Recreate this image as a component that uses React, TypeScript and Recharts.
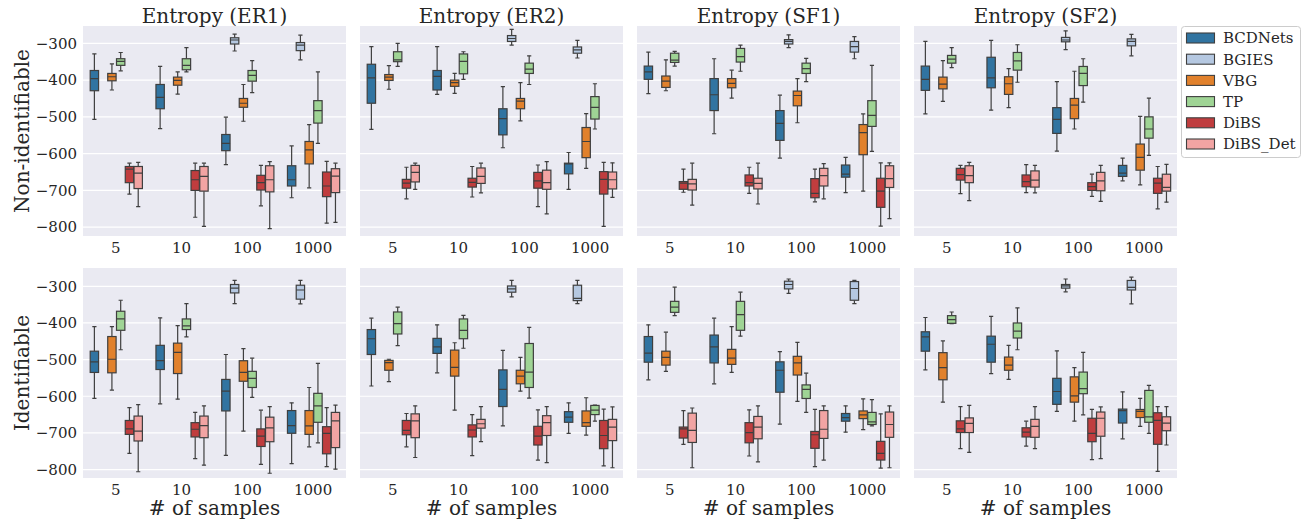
import React from 'react';
import { BarChart, Bar, XAxis, YAxis, CartesianGrid } from 'recharts';

const SAMPLES = ['5', '10', '100', '1000'];
const METHODS = ['BCDNets', 'BGIES', 'VBG', 'TP', 'DiBS', 'DiBS_Det'];
const COLORS = ['#3174a1', '#b5c8e1', '#e1812c', '#9fd495', '#c03d3e', '#f2a4a3'];
const Y_TICKS = [-800, -700, -600, -500, -400, -300];
const TITLES = ['Entropy (ER1)', 'Entropy (ER2)', 'Entropy (SF1)', 'Entropy (SF2)'];
const ROW_LABELS = ['Non-identifiable', 'Identifiable'];

// box = [low whisker, q1, median, q3, high whisker]; rows are 5, 10, 100, 1000 samples
type Box = number[] | null;

const NONID_ER1: Box[][] = [
  [[-507, -429, -396, -374, -329], null, [-427, -402, -391, -382, -356], [-375, -360, -349, -342, -325], [-710, -679, -642, -635, -626], [-744, -695, -653, -635, -624]],
  [[-532, -478, -447, -412, -363], null, [-438, -414, -401, -392, -378], [-378, -372, -360, -342, -312], [-773, -700, -671, -646, -626], [-798, -702, -662, -635, -626]],
  [[-630, -592, -572, -548, -501], [-321, -302, -291, -285, -275], [-512, -474, -463, -450, -412], [-434, -403, -387, -374, -347], [-742, -699, -679, -659, -632], [-804, -704, -671, -633, -622]],
  [[-720, -688, -671, -633, -579], [-345, -320, -305, -298, -278], [-693, -628, -590, -567, -521], [-572, -517, -483, -456, -378], [-789, -717, -688, -650, -621], [-787, -706, -661, -641, -626]],
];

const NONID_ER2: Box[][] = [
  [[-534, -463, -394, -357, -309], null, [-425, -401, -392, -385, -361], [-363, -350, -345, -323, -300], [-723, -694, -680, -670, -637], [-697, -677, -651, -632, -626]],
  [[-439, -427, -390, -374, -309], null, [-436, -417, -407, -400, -382], [-398, -383, -349, -329, -323], [-718, -691, -678, -667, -635], [-707, -681, -662, -639, -626]],
  [[-584, -549, -505, -478, -418], [-305, -295, -287, -279, -262], [-511, -478, -457, -450, -407], [-412, -382, -370, -354, -334], [-744, -694, -674, -651, -631], [-764, -697, -679, -645, -622]],
  [[-697, -655, -628, -626, -597], [-340, -327, -318, -310, -292], [-640, -611, -567, -529, -491], [-533, -506, -474, -445, -410], [-798, -710, -670, -649, -624], [-719, -696, -671, -650, -625]],
];

const NONID_SF1: Box[][] = [
  [[-437, -398, -378, -362, -324], null, [-429, -420, -403, -389, -345], [-362, -352, -346, -327, -322], [-705, -697, -680, -676, -642], [-740, -699, -682, -670, -626]],
  [[-546, -483, -440, -396, -342], null, [-449, -421, -409, -396, -373], [-376, -351, -336, -314, -305], [-708, -688, -679, -658, -637], [-737, -696, -681, -667, -626]],
  [[-612, -564, -518, -483, -441], [-312, -302, -295, -290, -277], [-516, -470, -442, -430, -396], [-404, -382, -369, -354, -341], [-731, -720, -708, -668, -642], [-723, -688, -660, -640, -627]],
  [[-706, -664, -656, -631, -610], [-342, -324, -309, -295, -282], [-702, -603, -543, -521, -492], [-594, -526, -496, -456, -360], [-797, -746, -702, -667, -625], [-777, -692, -668, -633, -625]],
];

const NONID_SF2: Box[][] = [
  [[-492, -428, -398, -362, -295], null, [-458, -424, -411, -392, -347], [-366, -354, -343, -333, -312], [-709, -672, -657, -640, -632], [-728, -679, -660, -633, -624]],
  [[-482, -421, -394, -338, -292], null, [-475, -439, -410, -391, -369], [-406, -373, -348, -325, -304], [-706, -690, -676, -658, -630], [-707, -691, -672, -647, -632]],
  [[-593, -545, -507, -475, -404], [-317, -296, -291, -284, -266], [-533, -505, -468, -450, -376], [-460, -415, -382, -363, -342], [-716, -700, -690, -679, -656], [-730, -701, -674, -651, -632]],
  [[-674, -662, -653, -632, -612], [-334, -307, -295, -288, -276], [-685, -645, -610, -574, -499], [-605, -558, -533, -500, -449], [-750, -708, -680, -667, -635], [-732, -702, -692, -656, -629]],
];

const ID_ER1: Box[][] = [
  [[-606, -535, -506, -477, -410], null, [-583, -536, -499, -437, -410], [-473, -420, -389, -368, -338], [-756, -704, -689, -666, -631], [-806, -722, -695, -654, -623]],
  [[-621, -527, -503, -461, -386], null, [-608, -538, -480, -455, -407], [-438, -418, -408, -389, -347], [-770, -711, -690, -672, -644], [-788, -713, -680, -654, -626]],
  [[-761, -640, -586, -554, -486], [-347, -318, -305, -295, -284], [-695, -559, -535, -503, -470], [-603, -576, -551, -532, -496], [-786, -737, -709, -689, -638], [-810, -724, -686, -657, -628]],
  [[-784, -701, -680, -639, -618], [-348, -335, -310, -297, -284], [-738, -704, -681, -639, -576], [-727, -671, -626, -592, -510], [-792, -757, -701, -683, -631], [-799, -740, -667, -644, -624]],
];

const ID_ER2: Box[][] = [
  [[-572, -486, -443, -418, -387], null, [-560, -529, -508, -502, -499], [-462, -430, -402, -370, -357], [-738, -705, -693, -666, -647], [-767, -713, -667, -648, -626]],
  [[-536, -483, -465, -442, -405], null, [-638, -545, -521, -474, -454], [-469, -443, -420, -389, -379], [-762, -711, -692, -678, -650], [-724, -687, -675, -663, -628]],
  [[-681, -628, -581, -528, -475], [-329, -316, -307, -299, -284], [-586, -566, -545, -529, -494], [-605, -576, -534, -456, -412], [-774, -733, -709, -682, -637], [-781, -707, -672, -653, -628]],
  [[-701, -671, -657, -642, -618], [-347, -339, -333, -297, -284], [-706, -682, -672, -640, -604], [-668, -650, -638, -625, -624], [-790, -743, -707, -666, -635], [-795, -721, -684, -663, -629]],
];

const ID_SF1: Box[][] = [
  [[-555, -507, -482, -437, -405], null, [-532, -515, -494, -477, -425], [-380, -371, -357, -341, -302], [-731, -714, -689, -684, -639], [-795, -726, -693, -646, -632]],
  [[-566, -509, -465, -433, -387], null, [-535, -513, -496, -472, -410], [-436, -420, -377, -341, -316], [-763, -727, -699, -672, -637], [-779, -716, -684, -655, -626]],
  [[-676, -589, -529, -506, -478], [-319, -307, -295, -286, -280], [-614, -542, -509, -491, -453], [-644, -606, -581, -569, -537], [-792, -742, -705, -696, -636], [-774, -715, -690, -639, -626]],
  [[-698, -668, -658, -647, -626], [-347, -338, -306, -287, -284], [-691, -661, -651, -640, -607], [-681, -677, -670, -644, -609], [-796, -774, -756, -723, -648], [-795, -712, -677, -643, -626]],
];

const ID_SF2: Box[][] = [
  [[-528, -477, -438, -424, -385], null, [-616, -555, -522, -481, -449], [-402, -401, -391, -380, -370], [-743, -699, -689, -667, -628], [-753, -699, -674, -659, -625]],
  [[-538, -507, -458, -436, -382], null, [-554, -529, -515, -493, -461], [-473, -441, -422, -400, -359], [-736, -711, -698, -686, -668], [-743, -712, -682, -663, -628]],
  [[-641, -622, -587, -551, -476], [-315, -305, -299, -295, -280], [-668, -616, -599, -547, -522], [-651, -593, -579, -534, -480], [-773, -724, -701, -660, -636], [-770, -709, -660, -643, -629]],
  [[-716, -673, -639, -635, -588], [-348, -310, -303, -284, -275], [-682, -658, -641, -636, -606], [-701, -671, -656, -584, -570], [-805, -731, -666, -645, -628], [-733, -694, -673, -656, -628]],
];

const PANELS = [
  [NONID_ER1, NONID_ER2, NONID_SF1, NONID_SF2],
  [ID_ER1, ID_ER2, ID_SF1, ID_SF2],
];

const FONT = "'DejaVu Serif', serif";
const TEXT = '#262626';
const LINE = '#3f3f3f';
const PLOT_LEFT = [83, 360, 637, 914];
const PLOT_W = 263;
const PLOT_TOP = [26, 268];
const PLOT_H = 210;
const Y_AXIS_W = 83;
const X_AXIS_H = 30;
const DOMAINS: [number, number][] = [[-824, -253], [-823, -250]];
const BAR = (PLOT_W / 4) * 0.8 / 6;

const fmt = (v: number) => (v < 0 ? '\u2212' + Math.abs(v) : String(v));

const BoxShape = (props: any) => {
  const { x, y, width, height, stats, color } = props;
  if (!stats || width == null) return <g />;
  const top = Math.min(y, y + height);
  const bottom = Math.max(y, y + height);
  const lo = stats[0];
  const hi = stats[4];
  const py = (v: number) => (hi === lo ? top : bottom - ((v - lo) / (hi - lo)) * (bottom - top));
  const cx = x + width / 2;
  const w = width - 0.4;
  const cap = w / 4;
  const q1 = py(stats[1]);
  const med = py(stats[2]);
  const q3 = py(stats[3]);
  return (
    <g>
      <line x1={cx} x2={cx} y1={top} y2={q3} stroke={LINE} strokeWidth={1.2} />
      <line x1={cx} x2={cx} y1={q1} y2={bottom} stroke={LINE} strokeWidth={1.2} />
      <line x1={cx - cap} x2={cx + cap} y1={top} y2={top} stroke={LINE} strokeWidth={1.2} />
      <line x1={cx - cap} x2={cx + cap} y1={bottom} y2={bottom} stroke={LINE} strokeWidth={1.2} />
      <rect x={cx - w / 2} y={q3} width={w} height={Math.max(q1 - q3, 0.5)} fill={color} stroke={LINE} strokeWidth={1.2} />
      <line x1={cx - w / 2} x2={cx + w / 2} y1={med} y2={med} stroke={LINE} strokeWidth={1.2} />
    </g>
  );
};

function Panel({ row, col }: { row: number; col: number }) {
  const boxes = PANELS[row][col];
  const data = SAMPLES.map((s, i) => {
    const d: Record<string, any> = { samples: s };
    METHODS.forEach((m, j) => {
      d[m] = boxes[i][j];
    });
    return d;
  });
  const first = col === 0;
  const tickStyle = { fontSize: 15, fill: TEXT, fontFamily: FONT };
  return (
    <div style={{ position: 'absolute', left: first ? 0 : PLOT_LEFT[col], top: PLOT_TOP[row] }}>
      <BarChart
        width={(first ? Y_AXIS_W : 0) + PLOT_W}
        height={PLOT_H + X_AXIS_H}
        data={data}
        margin={{ top: 0, right: 0, bottom: 0, left: 0 }}
        barGap={0}
      >
        <CartesianGrid vertical={false} horizontalValues={Y_TICKS} stroke="#ffffff" strokeWidth={1.2} fill="#eaeaf2" />
        <XAxis
          dataKey="samples"
          interval={0}
          tickLine={false}
          axisLine={false}
          tickSize={4}
          tickMargin={2}
          height={X_AXIS_H}
          tick={tickStyle}
        />
        <YAxis
          type="number"
          domain={DOMAINS[row]}
          allowDataOverflow
          ticks={Y_TICKS}
          interval={0}
          hide={!first}
          width={Y_AXIS_W}
          tickLine={false}
          axisLine={false}
          tickSize={4}
          tickMargin={2}
          tick={tickStyle}
          tickFormatter={fmt}
        />
        {METHODS.map((m, j) => (
          <Bar
            key={m}
            dataKey={(d: any) => (d[m] ? [d[m][0], d[m][4]] : null)}
            barSize={BAR}
            isAnimationActive={false}
            shape={(p: any) => <BoxShape {...p} stats={p.payload ? p.payload[m] : null} color={COLORS[j]} />}
          />
        ))}
      </BarChart>
    </div>
  );
}

export default function App() {
  return (
    <div style={{ position: 'absolute', left: 0, top: 0, width: 1307, height: 523, background: '#ffffff', fontFamily: FONT }}>
      {[0, 1].map((r) => [0, 1, 2, 3].map((c) => <Panel key={`${r}-${c}`} row={r} col={c} />))}
      <svg width={1307} height={523} style={{ position: 'absolute', left: 0, top: 0, pointerEvents: 'none' }}>
        {TITLES.map((t, c) => (
          <text key={t} x={PLOT_LEFT[c] + PLOT_W / 2} y={23.3} textAnchor="middle" fontSize={20} fill={TEXT} fontFamily={FONT}>
            {t}
          </text>
        ))}
        {ROW_LABELS.map((t, r) => (
          <text
            key={t}
            transform={`translate(29, ${PLOT_TOP[r] + PLOT_H / 2}) rotate(-90)`}
            textAnchor="middle"
            fontSize={20}
            fill={TEXT}
            fontFamily={FONT}
          >
            {t}
          </text>
        ))}
        {PLOT_LEFT.map((l) => (
          <text key={l} x={l + PLOT_W / 2} y={515} textAnchor="middle" fontSize={20} fill={TEXT} fontFamily={FONT}>
            # of samples
          </text>
        ))}
        <rect x={1181.5} y={26.5} width={119} height={131} rx={3} fill="#ffffff" stroke="#cccccc" strokeWidth={1} />
        {METHODS.map((m, i) => {
          const cy = 38 + i * 21.2;
          return (
            <g key={m}>
              <rect x={1186.5} y={cy - 5} width={28} height={10} fill={COLORS[i]} stroke={LINE} strokeWidth={1.1} />
              <text x={1223} y={cy + 5.3} fontSize={15} fill={TEXT} fontFamily={FONT}>
                {m}
              </text>
            </g>
          );
        })}
      </svg>
    </div>
  );
}
